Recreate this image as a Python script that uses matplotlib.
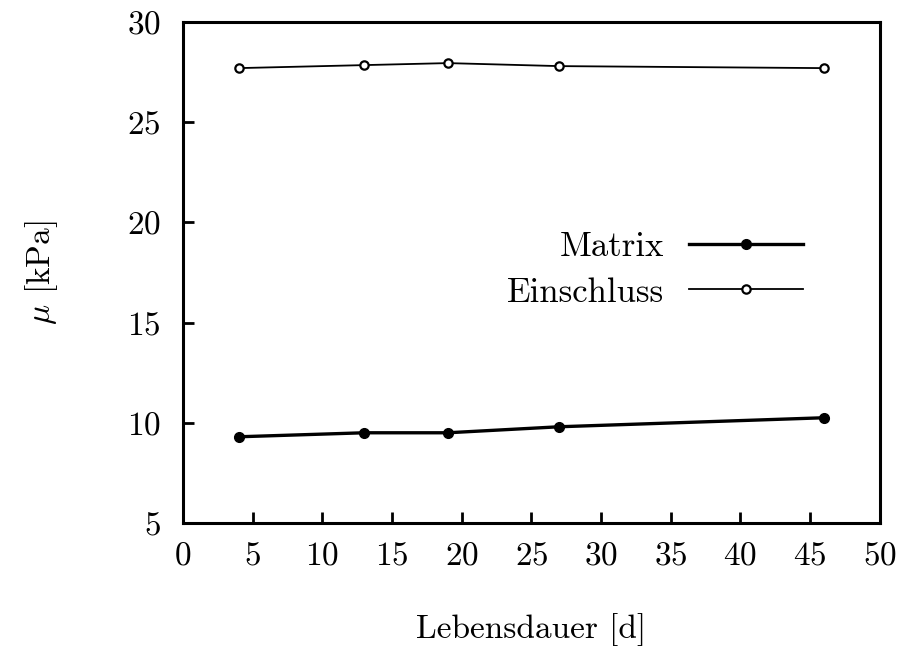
import matplotlib
matplotlib.use('Agg')
import matplotlib.pyplot as plt

plt.rcParams['font.family'] = 'cmr10'
plt.rcParams['mathtext.fontset'] = 'cm'
plt.rcParams['axes.formatter.use_mathtext'] = True

# Lebensdauer in Tagen und Schermodul in kPa
days = [4, 13, 19, 27, 46]
mu_matrix = [9.3, 9.5, 9.5, 9.8, 10.25]
mu_einschluss = [27.7, 27.85, 27.95, 27.8, 27.7]

fig = plt.figure(figsize=(9.08, 6.48), dpi=100)
ax = fig.add_axes([0.2015, 0.193, 0.7675, 0.773])

ax.plot(days, mu_matrix, color='black', lw=2.4, marker='o', ms=7,
        mfc='black', mec='black', label='Matrix')
ax.plot(days, mu_einschluss, color='black', lw=1.3, marker='o', ms=6,
        mfc='white', mec='black', mew=1.6, label='Einschluss')

ax.set_xlim(0, 50)
ax.set_ylim(5, 30)
ax.set_xticks(range(0, 51, 5))
ax.set_yticks(range(5, 31, 5))
ax.tick_params(direction='in', length=8, width=2, labelsize=24)
ax.tick_params(axis='y', pad=16)
ax.tick_params(axis='x', pad=13)
for s in ax.spines.values():
    s.set_linewidth(2.2)

ax.set_xlabel('Lebensdauer [d]', fontsize=24, labelpad=31)
ax.set_ylabel(r'$\mu$ [kPa]', fontsize=24, labelpad=48)

ax.legend(loc='center right', bbox_to_anchor=(0.915, 0.505), frameon=False,
          markerfirst=False, numpoints=1, fontsize=25, handlelength=3.3,
          handletextpad=0.7, labelspacing=0.4, borderpad=0)

fig.savefig('out.png', dpi=100)
